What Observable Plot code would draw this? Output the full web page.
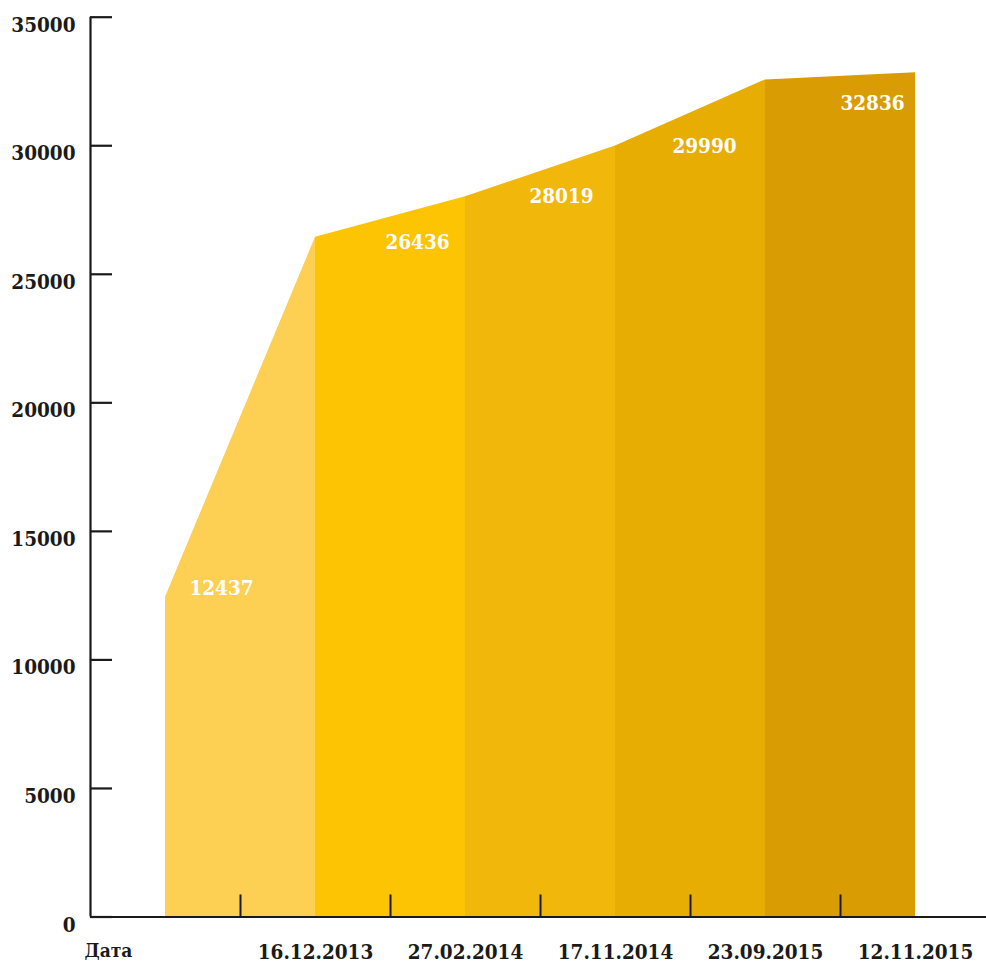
<!DOCTYPE html>
<html>
<head>
<meta charset="utf-8">
<script src="https://cdn.jsdelivr.net/npm/d3@7"></script>
<script src="https://cdn.jsdelivr.net/npm/@observablehq/plot@0.6"></script>
<style>
  html, body { margin: 0; padding: 0; background: #fff; }
  svg { display: block; }
</style>
</head>
<body>
<div id="chart"></div>
<script>
// Data
const dates = ["16.12.2013", "27.02.2014", "17.11.2014", "23.09.2015", "12.11.2015"];
const values = [12437, 26436, 28019, 29990, 32836];
// heights of the filled area at each segment boundary
const edgeValues = [12437, 26436, 28019, 29990, 32560, 32836];
const colors = ["#FDCF52", "#FCC403", "#F2B70B", "#E8AD02", "#D99C02"];
const yTicks = [0, 5000, 10000, 15000, 20000, 25000, 30000, 35000];
const axisTitle = "Дата";

// label placement tweaks (px)
const labelDx = [56, 102, 96, 89, 107];
const labelDy = [-9, 5, 0, 0, 31];

const font = "'DejaVu Serif Condensed', 'DejaVu Serif', serif";
const fs = 20.5;
const ink = "#1a1a1a";

const segs = colors.map((c, i) => [
  {x: i, y: edgeValues[i]},
  {x: i + 1, y: edgeValues[i + 1]}
]);

const pxPerUnit = (916.5 - 16.7) / 35000;
const tickLen = 22 / pxPerUnit;

const marks = [];
segs.forEach((s, i) => {
  marks.push(Plot.areaY(s, {x: "x", y: "y", fill: colors[i], curve: "linear"}));
});
// y axis line
marks.push(Plot.ruleX([-0.5], {y1: 0, y2: 35000, stroke: ink, strokeWidth: 2.2}));
// y ticks (pointing right)
marks.push(Plot.ruleY(yTicks, {y: d => d, x1: -0.5, x2: -0.5 + 22 / 150, stroke: ink, strokeWidth: 2.2}));
// baseline
marks.push(Plot.ruleY([0], {x1: -0.5, x2: (988 - 165) / 150, stroke: ink, strokeWidth: 2.2}));
// bottom ticks
marks.push(Plot.ruleX(dates.map((d, i) => i + 0.5), {x: d => d, y1: 0, y2: tickLen, stroke: ink, strokeWidth: 2}));
// y tick labels
marks.push(Plot.text(yTicks, {
  x: -0.5, y: d => d, text: d => String(d), dx: -15, dy: 8,
  textAnchor: "end", fontFamily: font, fontWeight: "bold", fontSize: fs, fill: ink
}));
// x labels
marks.push(Plot.text(dates, {
  x: (d, i) => i + 1, y: 0, text: d => d, dy: 35,
  textAnchor: "middle", fontFamily: font, fontWeight: "bold", fontSize: fs, fill: ink
}));
// axis title
marks.push(Plot.text([axisTitle], {
  x: -0.5, y: 0, text: d => d, dx: -6, dy: 34,
  textAnchor: "start", fontFamily: font, fontWeight: "bold", fontSize: 19, fill: ink
}));
// value labels (one mark each, for per-label offsets)
values.forEach((v, i) => {
  marks.push(Plot.text([v], {
    x: i, y: v, text: d => String(d), dx: labelDx[i], dy: labelDy[i],
    textAnchor: "middle", fontFamily: font, fontWeight: "bold", fontSize: fs, fill: "#ffffff"
  }));
});

const chart = Plot.plot({
  width: 986,
  height: 963,
  margin: 0,
  style: {background: "#fff", overflow: "visible"},
  x: {domain: [0, 5], range: [165, 915], axis: null},
  y: {domain: [0, 35000], range: [916.5, 16.7], axis: null},
  marks
});
document.getElementById("chart").appendChild(chart);
</script>
</body>
</html>
